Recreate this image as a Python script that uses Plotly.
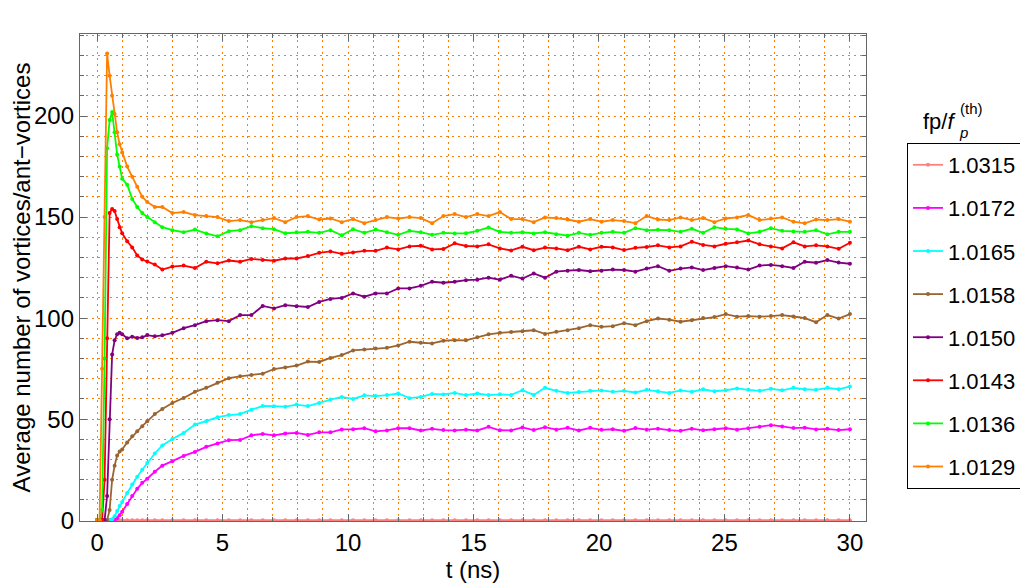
import plotly.graph_objects as go

# time axis (ns)
t = [0.0, 0.1, 0.2, 0.3, 0.4, 0.5, 0.6, 0.7, 0.8, 0.9, 1.0, 1.2, 1.4, 1.6, 1.8, 2.0, 2.3, 2.6,
     3.0, 3.45, 3.9, 4.35, 4.8, 5.25, 5.7, 6.15, 6.6, 7.05, 7.5, 7.95, 8.4, 8.85, 9.3, 9.75,
     10.2, 10.65, 11.1, 11.55, 12.0, 12.45, 12.9, 13.35, 13.8, 14.25, 14.7, 15.15, 15.6, 16.05,
     16.5, 16.95, 17.4, 17.85, 18.3, 18.75, 19.2, 19.65, 20.1, 20.55, 21.0, 21.45, 21.9, 22.35,
     22.8, 23.25, 23.7, 24.15, 24.6, 25.05, 25.5, 25.95, 26.4, 26.85, 27.3, 27.75, 28.2, 28.65,
     29.1, 29.55, 30.0]

labels = ["1.0315", "1.0172", "1.0165", "1.0158", "1.0150", "1.0143", "1.0136", "1.0129"]
colors = ["#FF8080", "#FF00FF", "#00FFFF", "#996633", "#800080", "#FF0000", "#00FF00", "#FF8000"]

v_1_0315 = [
    0, 0, 0, 0, 0, 0, 0, 0, 0, 0, 0, 0, 0, 0, 0, 0, 0, 0,
    0, 0, 0, 0, 0, 0, 0, 0, 0, 0, 0, 0, 0, 0, 0, 0, 0, 0, 0, 0, 0, 0, 0, 0, 0, 0, 0, 0,
    0, 0, 0, 0, 0, 0, 0, 0, 0, 0, 0, 0, 0, 0, 0, 0, 0, 0, 0, 0, 0, 0, 0, 0, 0, 0, 0, 0,
    0, 0, 0, 0, 0]

v_1_0172 = [0, 0, 0, 0, 0, 0, 0, 0, 1, 2.5, 4.2, 8, 12, 15.5, 18.5, 20.5, 24, 27,
            29.2, 31.8, 33.8, 36.3, 38, 39.6, 39.7, 42, 42.7, 42, 42.9, 43.2, 42.2, 43.5, 43.5, 44.9,
            45, 45.5, 44, 44.4, 45.5, 45.5, 44.4, 45.2, 44.6, 44.4, 44.8, 44.4, 46.2, 44.5,
            44.4, 45.9, 44.6, 46, 44.8, 45.7, 44.4, 45.7, 44.7, 45, 44.2, 45.6, 44.8, 45.3,
            44.6, 44.2, 45.3, 44.5, 45, 45.5, 44.8, 45.5, 46.2, 47, 46.4, 45.6, 45.8, 44.9,
            45.2, 44.6, 45]

v_1_0165 = [0, 0, 0, 0, 0, 0, 0.5, 2, 4.5, 7, 9, 13.5, 17.7, 21.5, 25, 28.3, 33, 37,
            40.2, 43.2, 47.3, 49, 51, 52, 52.5, 54.7, 56.5, 56.4, 56.2, 57.2, 56.5, 58, 59.7, 61,
            60, 61.8, 61.4, 61.9, 62.7, 60.4, 61, 62.5, 62.2, 63, 61.9, 62.7, 61.9, 62.3,
            62, 64.3, 62, 65.5, 64, 63, 63.4, 64, 64.2, 63.5, 64, 63.2, 64.5, 63.8,
            63, 64.2, 63.5, 64.8, 63.8, 64.3, 65.2, 64.5, 64, 65, 64.3, 65.5, 64.8, 64.5,
            65.5, 64.8, 66.2]

v_1_0158 = [0, 0, 0, 0, 0, 5, 20, 27, 32, 34, 35, 38.5, 41.5, 44, 46.5, 49, 52.5, 55,
            58, 60.5, 63.5, 65.5, 68, 70.3, 71.2, 71.8, 72.5, 74.8, 75.6, 76.5, 78.5, 78.3, 80.3, 81.7,
            84, 84.5, 85, 85.3, 86.5, 88.3, 87.8, 87.5, 88.8, 89.1, 89, 90.5, 92, 92.7,
            93.1, 93.5, 94, 92.2, 93.2, 94, 95, 96.5, 95.7, 96, 97.5, 96.5, 98.5, 99.8,
            99.2, 98.2, 99, 100, 100.5, 102, 100.7, 101, 100.7, 101, 101.5, 100.8, 100, 98,
            101.5, 99.8, 102]

v_1_0150 = [0, 0, 0, 0, 12, 50, 82, 89, 92, 92.7, 92, 90, 90.8, 90.2, 90.5, 91.6, 91, 91.5,
            92.7, 95, 96.5, 98.5, 99, 98.5, 101.5, 101.5, 106, 104.8, 106.4, 105.9, 105.5, 108, 109.5, 110,
            112.2, 110.6, 112.2, 112.2, 114.7, 114.7, 116, 118, 117.5, 118, 118.8, 119, 120, 119,
            121, 119.6, 122.1, 120, 123, 123.5, 123.8, 123.2, 123.5, 124, 123.8, 123, 124.5, 125.7,
            123.4, 124.5, 125.1, 123.8, 124.8, 125.7, 125, 124, 126, 126.3, 125.7, 124.8, 127.9, 127.4,
            128.7, 127.5, 126.9]

v_1_0143 = [0, 0, 0, 20, 90, 152, 154, 153, 149, 145, 142, 138, 135, 131, 129, 128, 126.5, 124,
            125.5, 126, 124.8, 127.9, 127.1, 128.5, 127.9, 129.3, 128.7, 128.4, 129.5, 129.5, 130.7, 132.3, 133, 131.8,
            132.5, 133.3, 133.3, 134.9, 134, 135.5, 135.8, 134, 134.2, 137, 135.7, 135.5, 136.5, 134.5,
            133.5, 135.3, 133.6, 134.9, 134.5, 133.6, 135.3, 134, 135.3, 135, 133.7, 134.8, 135.2, 136,
            135, 135.5, 137.8, 136.2, 135.5, 136.8, 137.5, 138.4, 136.5, 135.5, 134.5, 137.5, 135.5, 136,
            135.5, 134.3, 137.3]

v_1_0136 = [0, 0, 5, 80, 184, 198, 202, 192, 181, 175, 169, 166, 159, 155, 152, 150, 147.5, 145,
            143.5, 142.5, 143.8, 141.9, 140.5, 143, 143.5, 145.5, 144.5, 144, 142, 142.5, 142.7, 142.2, 143.5, 141,
            144, 142.2, 143.8, 142.5, 141.2, 143.2, 142.5, 141.2, 142.2, 141.9, 142, 143.2, 144.9, 142.7,
            142.2, 142.5, 141.9, 142.5, 141.5, 140.8, 142.2, 141.2, 142.2, 142.7, 142.2, 144.5, 143.5, 143.7,
            143.5, 142.7, 144.2, 142.2, 145, 144.2, 143.9, 141.9, 142.7, 144.5, 143.2, 142.9, 142.7, 143.5,
            141.5, 142.7, 142.7]

v_1_0129 = [0, 0, 75, 150, 231, 220, 210, 201, 192, 186, 182, 175, 170, 165, 160, 157.5, 155, 155,
            152, 152.5, 151, 150.5, 150, 148, 148.5, 147.5, 148.5, 149.5, 147.5, 150, 150.5, 148.8, 149.3, 147.5,
            149, 147, 148.5, 150, 149.3, 150, 149.5, 147, 150.5, 151.5, 150, 151.5, 150.5, 152.5,
            149, 149, 147.5, 149.8, 149.5, 148.8, 147.7, 149, 147.7, 148.5, 148, 147, 150.5, 148.8,
            148.5, 149.8, 148.5, 149.5, 147.5, 149.3, 149.8, 151, 148.5, 149.3, 149.8, 147.7, 146.9, 148.8,
            148.5, 149, 147.7]

values = [v_1_0315, v_1_0172, v_1_0165, v_1_0158, v_1_0150, v_1_0143, v_1_0136, v_1_0129]

FONT = "Liberation Sans, Arial, sans-serif"
GRID = "#FF8000"
FRAME = "#666666"

# the page body adds an 8px margin, so the figure is 8px smaller and all
# positions are expressed relative to the figure's own origin
OFF = 8
FIG_W, FIG_H = 1028 - OFF, 588 - OFF

fig = go.Figure()
for lab, vals, col in zip(labels, values, colors):
    fig.add_trace(go.Scatter(
        x=t, y=vals, mode="lines+markers", name=lab, legendgroup=lab,
        line=dict(color=col, width=1.8),
        marker=dict(color=col, size=4),
    ))


def px_x(px):
    return (px - 80) / 786


def px_y(py):
    return (521 - py) / 487


fig.update_layout(
    width=FIG_W, height=FIG_H,
    margin=dict(l=80 - OFF, r=FIG_W - (866 - OFF), t=34 - OFF, b=FIG_H - (521 - OFF), autoexpand=False),
    paper_bgcolor="white", plot_bgcolor="white",
    font=dict(family=FONT, size=22, color="black"),
    showlegend=True,
    legend=dict(
        x=px_x(907), y=px_y(143), xanchor="left", yanchor="top",
        bordercolor="black", borderwidth=1, bgcolor="white",
        font=dict(family=FONT, size=22, color="black"),
        itemwidth=30, tracegroupgap=11.5, maxheight=420,
    ),
)

axis_common = dict(
    showline=True, linecolor=FRAME, linewidth=1.3, mirror="allticks",
    ticks="inside", tickcolor=FRAME, ticklen=7, tickwidth=1,
    showgrid=True, gridcolor=GRID, gridwidth=1.3, griddash="2px,4px",
    zeroline=False,
    tickfont=dict(family=FONT, size=24, color="black"),
)

fig.update_xaxes(
    **axis_common,
    range=[-0.68, 30.64],
    tickvals=[0, 5, 10, 15, 20, 25, 30],
    minor=dict(dtick=1, tick0=0, ticks="inside", ticklen=4, tickcolor=FRAME,
               showgrid=True, gridcolor=GRID, gridwidth=1.3, griddash="2px,4px"),
    title=dict(text="t (ns)", font=dict(family=FONT, size=24, color="black"), standoff=5),
)
fig.update_yaxes(
    **axis_common,
    range=[-0.4, 240.6],
    tickvals=[0, 50, 100, 150, 200],
    minor=dict(dtick=10, tick0=0, ticks="inside", ticklen=4, tickcolor=FRAME,
               showgrid=True, gridcolor=GRID, gridwidth=1.3, griddash="2px,4px"),
    title=dict(text="Average number of vortices/ant\u2212vortices",
               font=dict(family=FONT, size=24, color="black"), standoff=4),
)

# legend title (drawn outside the legend box, as in the reference)
fig.add_annotation(x=px_x(958), y=px_y(121), xref="paper", yref="paper",
                   text="fp/<i>f</i>", showarrow=False, xanchor="right", yanchor="middle",
                   font=dict(family=FONT, size=22, color="black"))
fig.add_annotation(x=px_x(957), y=px_y(133), xref="paper", yref="paper",
                   text="<i>p</i>", showarrow=False, xanchor="left", yanchor="middle",
                   font=dict(family=FONT, size=15, color="black"))
fig.add_annotation(x=px_x(958), y=px_y(108), xref="paper", yref="paper",
                   text="(th)", showarrow=False, xanchor="left", yanchor="middle",
                   font=dict(family=FONT, size=15, color="black"))

fig.write_html("out.html")
